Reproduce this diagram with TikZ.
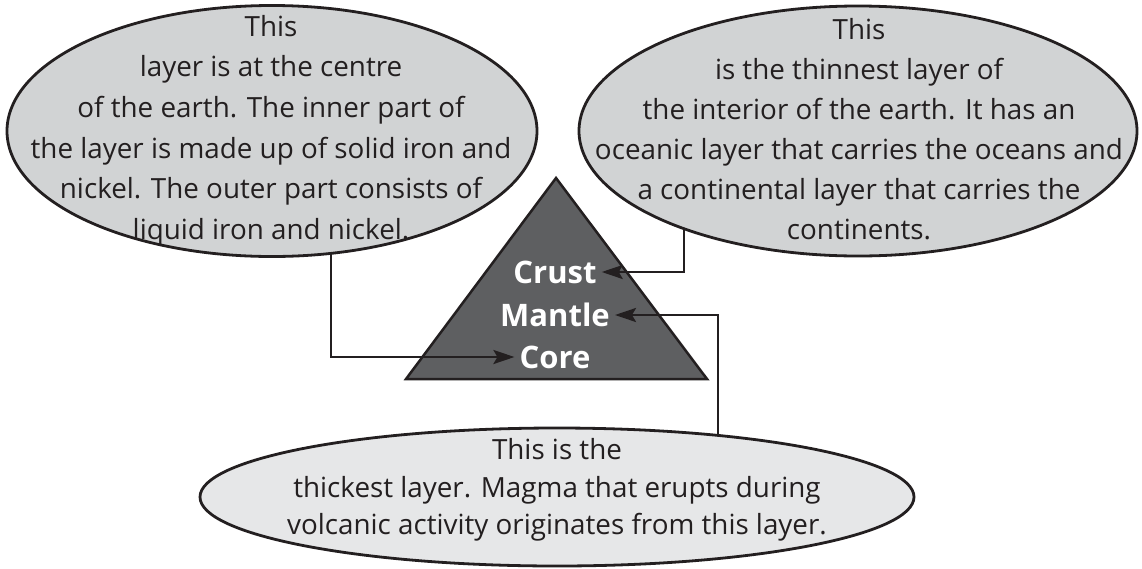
\documentclass[tikz,border=0pt]{standalone}
\usepackage{fontspec}
\setmainfont{Open Sans}
\usetikzlibrary{shapes.geometric,arrows.meta,calc}
\definecolor{ink}{HTML}{231F20}
\definecolor{bubble}{HTML}{D1D3D4}
\definecolor{bubblelight}{HTML}{E6E7E8}
\definecolor{rock}{HTML}{5E5F61}
\pgfdeclarelayer{bg}
\pgfdeclarelayer{mid}
\pgfsetlayers{bg,mid,main}

\begin{document}
\begin{tikzpicture}[x=1pt,y=-1pt,
  bubblestyle/.style={ellipse, draw=ink, line width=2.8pt, inner sep=0pt},
  bodytext/.style={align=center, text=ink, inner sep=0pt,
    font=\fontsize{27.8}{40.6}\selectfont},
  layername/.style={text=white, inner sep=5pt,
    font=\fontsize{31}{36}\selectfont\bfseries},
  link/.style={draw=ink, line width=2.6pt,
    -{Stealth[length=21pt,width=14pt,inset=4pt]}}]
\useasboundingbox (0,0) rectangle (1142,568);

% the three description bubbles
\node[bubblestyle, fill=bubble, minimum width=530pt, minimum height=251pt] (core bubble) at (272,131) {};
\node[bubblestyle, fill=bubble, minimum width=558pt, minimum height=250pt] (crust bubble) at (858,131) {};
\node[bubblestyle, fill=bubblelight, minimum width=714pt, minimum height=138pt] (mantle bubble) at (557,497) {};

\node[bodytext] (core text) at (271,130.5) {This\\
layer is at the centre\\
of the earth. The inner part of\\
the layer is made up of solid iron and\\
nickel. The outer part consists of\\
liquid iron and nickel.};

\node[bodytext, font=\fontsize{27.8}{40}\selectfont] (crust text) at (859,129) {This\\
is the thinnest layer of\\
the interior of the earth. It has an\\
oceanic layer that carries the oceans and\\
a continental layer that carries the\\
continents.};

\node[bodytext, font=\fontsize{27.8}{37.5}\selectfont] (mantle text) at (557,490) {This is the\\
thickest layer. Magma that erupts during\\
volcanic activity originates from this layer.};

% the layered triangle
\coordinate (apex) at (556,178);
\coordinate (base left) at (406,379);
\coordinate (base right) at (707,379);
\begin{pgfonlayer}{bg}
\draw[ink, fill=rock, line width=2.5pt] (apex) -- (base right) -- (base left) -- cycle;
\end{pgfonlayer}

\node[layername] (crust) at (555,272) {Crust};
\node[layername] (mantle) at (555,315) {Mantle};
\node[layername] (core) at (555,357) {Core};

% connectors from each bubble to its layer name
\begin{pgfonlayer}{mid}
\draw[link] ($(core bubble.center)+(59,0)$) |- (core.west);
\draw[link] ($(crust bubble.center)+(-174,0)$) |- (crust.east);
\draw[link] ($(mantle bubble.center)+(161,0)$) |- (mantle.east);
\end{pgfonlayer}
\end{tikzpicture}
\end{document}
